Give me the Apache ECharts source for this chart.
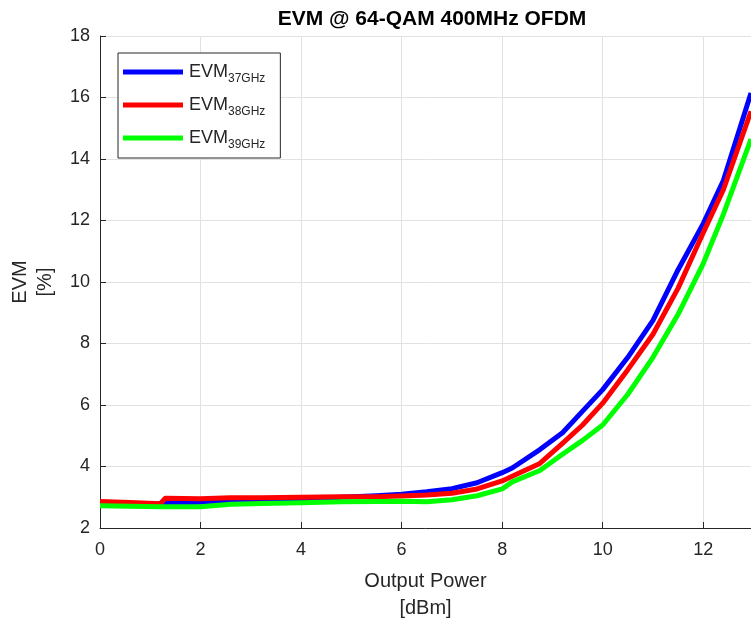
<!DOCTYPE html>
<html>
<head>
<meta charset="utf-8">
<script src="https://cdn.jsdelivr.net/npm/echarts@6/dist/echarts.min.js"></script>
<style>
html,body{margin:0;padding:0;background:#fff;}
#c{width:751px;height:621px;}
</style>
</head>
<body>
<div id="c"></div>
<script>
const outputPower = [0, 0.6, 1.2, 1.3, 2, 2.6, 3.2, 4, 4.8, 5.5, 6, 6.5, 7, 7.5, 8, 8.2, 8.75, 9.2, 9.6, 10, 10.5, 11, 11.5, 12, 12.4, 12.95];
const evm37 = [2.82, 2.8, 2.78, 2.8, 2.84, 2.88, 2.9, 2.95, 3.0, 3.05, 3.1, 3.18, 3.28, 3.47, 3.8, 3.95, 4.55, 5.1, 5.8, 6.5, 7.55, 8.75, 10.4, 11.9, 13.3, 16.15];
const evm38 = [2.86, 2.83, 2.79, 2.97, 2.95, 2.98, 2.98, 3.0, 3.02, 3.02, 3.04, 3.07, 3.13, 3.27, 3.53, 3.68, 4.1, 4.75, 5.35, 6.06, 7.15, 8.3, 9.8, 11.6, 13.0, 15.55];
const evm39 = [2.72, 2.71, 2.69, 2.69, 2.69, 2.77, 2.8, 2.82, 2.85, 2.86, 2.87, 2.85, 2.92, 3.05, 3.27, 3.5, 3.87, 4.4, 4.85, 5.35, 6.35, 7.55, 8.95, 10.6, 12.2, 14.65];
const seriesNames = ['37GHz', '38GHz', '39GHz'];
const seriesColors = ['#0000ff', '#ff0000', '#00ff00'];
const xTicks = [0, 2, 4, 6, 8, 10, 12];
const yTicks = [2, 4, 6, 8, 10, 12, 14, 16, 18];

const allY = [evm37, evm38, evm39];
const FONT = '"Liberation Sans", Arial, Helvetica, sans-serif';
const TXT = '#262626';

const chart = echarts.init(document.getElementById('c'), null, {renderer: 'canvas'});
chart.setOption({
  animation: false,
  backgroundColor: '#ffffff',
  textStyle: {fontFamily: FONT},
  title: {
    text: 'EVM @ 64-QAM 400MHz OFDM',
    left: 427,
    textAlign: 'center',
    top: 4,
    textStyle: {fontFamily: FONT, fontWeight: 'bold', fontSize: 21, color: '#000'}
  },
  grid: {left: 100, right: 0, top: 36, bottom: 93, containLabel: false, outerBoundsMode: 'none'},
  legend: {
    orient: 'vertical',
    left: 118,
    top: 53,
    padding: [6, 15, 7, 5],
    itemGap: 7,
    itemWidth: 60,
    itemHeight: 5,
    icon: 'rect',
    backgroundColor: '#ffffff',
    borderColor: TXT,
    borderWidth: 1,
    borderRadius: 0,
    data: seriesNames,
    formatter: function (name) { return '{a|EVM}{b|' + name + '}'; },
    textStyle: {
      padding: [0, 0, 0, 1],
      rich: {
        a: {fontFamily: FONT, fontSize: 18, lineHeight: 18, color: TXT},
        b: {fontFamily: FONT, fontSize: 12, lineHeight: 12, padding: [14, 0, 0, 0], color: TXT}
      }
    }
  },
  xAxis: {
    type: 'value',
    min: 0,
    max: 12.95,
    interval: 2,
    name: 'Output Power\n[dBm]',
    nameLocation: 'middle',
    nameGap: 40,
    nameTextStyle: {fontFamily: FONT, fontSize: 20, color: TXT, lineHeight: 27, verticalAlign: 'top'},
    axisLine: {show: true, onZero: false, lineStyle: {color: TXT, width: 1}},
    axisTick: {show: true, inside: true, length: 6, lineStyle: {color: TXT}},
    axisLabel: {
      fontFamily: FONT, fontSize: 18, color: TXT, margin: 13,
      showMaxLabel: false,
      formatter: function (v) { return xTicks.indexOf(v) >= 0 ? String(v) : ''; }
    },
    splitLine: {show: true, lineStyle: {color: '#e2e2e2', width: 1}}
  },
  yAxis: {
    type: 'value',
    min: 2,
    max: 18,
    interval: 2,
    name: 'EVM\n[%]',
    nameLocation: 'middle',
    nameRotate: 90,
    nameGap: 42,
    nameTextStyle: {fontFamily: FONT, fontSize: 20, color: TXT, lineHeight: 25},
    axisLine: {show: true, lineStyle: {color: TXT, width: 1}},
    axisTick: {show: true, inside: true, length: 6, lineStyle: {color: TXT}},
    axisLabel: {
      fontFamily: FONT, fontSize: 18, color: TXT, margin: 10,
      formatter: function (v) { return yTicks.indexOf(v) >= 0 ? String(v) : ''; }
    },
    splitLine: {show: true, lineStyle: {color: '#e2e2e2', width: 1}}
  },
  series: seriesNames.map(function (n, i) {
    return {
      name: n,
      type: 'line',
      showSymbol: false,
      symbol: 'none',
      color: seriesColors[i],
      lineStyle: {color: seriesColors[i], width: 5, join: 'round'},
      data: outputPower.map(function (x, j) { return [x, allY[i][j]]; }),
      z: 2 + i
    };
  })
});
</script>
</body>
</html>
